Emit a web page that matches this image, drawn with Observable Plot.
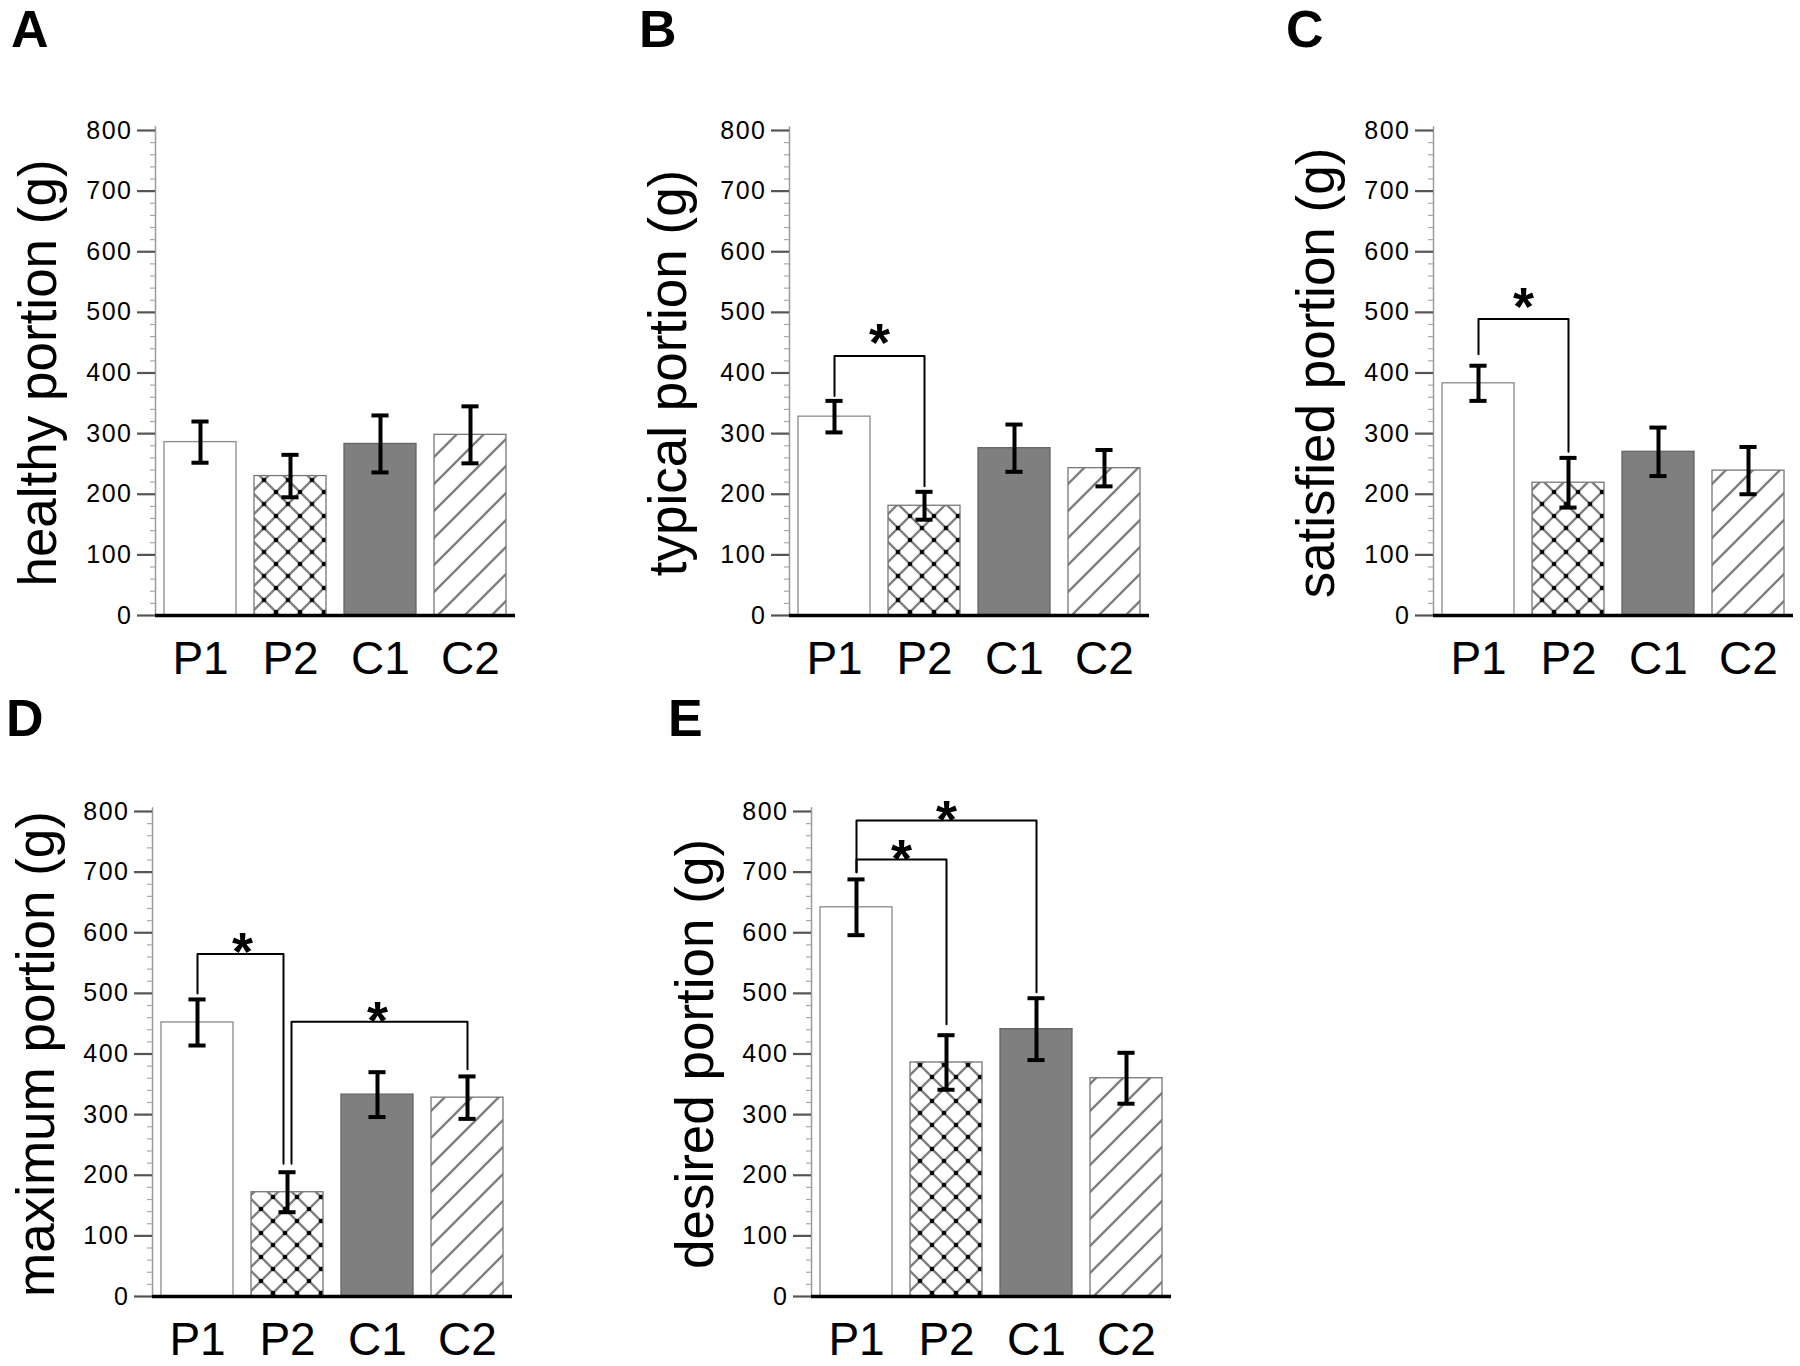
<!DOCTYPE html>
<html><head><meta charset="utf-8">
<script src="https://cdn.jsdelivr.net/npm/d3@7"></script>
<script src="https://cdn.jsdelivr.net/npm/@observablehq/plot@0.6"></script>
<style>
body{margin:0;background:#fff;}
#wrap{position:relative;width:1800px;height:1366px;overflow:hidden;background:#fff;font-family:"Liberation Sans",Arial,sans-serif;}
.panel{position:absolute;}
.letter{position:absolute;font-weight:bold;font-size:52px;font-family:"Liberation Sans",Arial,sans-serif;line-height:1;color:#000;}
.panel svg g[aria-label="y-axis tick label"] text{letter-spacing:1.5px;}
</style></head><body>
<svg width="0" height="0" style="position:absolute">
<defs>
<pattern id="cross" patternUnits="userSpaceOnUse" width="24" height="24">
<rect width="24" height="24" fill="#fff"/>
<path d="M-1,-1L25,25M25,-1L-1,25" stroke="#808080" stroke-width="2.4" fill="none"/>
<circle cx="12" cy="12" r="2.3" fill="#000"/>
<circle cx="0" cy="0" r="2.3" fill="#000"/><circle cx="24" cy="0" r="2.3" fill="#000"/>
<circle cx="0" cy="24" r="2.3" fill="#000"/><circle cx="24" cy="24" r="2.3" fill="#000"/>
</pattern>
<pattern id="diag" patternUnits="userSpaceOnUse" width="27" height="27">
<rect width="27" height="27" fill="#fff"/>
<path d="M-2,29L29,-2M-2,2L2,-2M25,29L29,25" stroke="#808080" stroke-width="2.4" fill="none"/>
</pattern>
</defs></svg>
<div id="wrap"></div>
<script>
// ---- data ----
const cats = ["P1", "P2", "C1", "C2"];
const majorTicks = [0, 100, 200, 300, 400, 500, 600, 700, 800];

const healthyMean = [286, 230, 283, 298];
const healthyErr  = [34, 35, 47, 47];
const typicalMean = [328, 181, 276, 243];
const typicalErr  = [26, 23, 39, 30];
const satisfiedMean = [383, 219, 270, 239];
const satisfiedErr  = [29, 41, 40, 39];
const maximumMean = [452, 172, 333, 328];
const maximumErr  = [38, 33, 37, 35];
const desiredMean = [642, 386, 441, 360];
const desiredErr  = [46, 45, 51, 42];

const bracketsB = [{from: "P1", to: "P2", top: 428, fromEnd: 362, toEnd: 213, star: 472}];
const bracketsC = [{from: "P1", to: "P2", top: 489, fromEnd: 431, toEnd: 270, star: 530}];
const bracketsD = [
  {from: "P1", to: "P2", top: 565, fromEnd: 500, toEnd: 219, star: 590},
  {from: "P2", to: "C2", top: 453, fromEnd: 219, toEnd: 375, star: 477}
];
const bracketsE = [
  {from: "P1", to: "P2", top: 721, fromEnd: 700, toEnd: 449, star: 744},
  {from: "P1", to: "C1", top: 785, fromEnd: 700, toEnd: 502, star: 808}
];

const panels = [
  {letter: "A", title: "healthy portion (g)", mean: healthyMean, err: healthyErr, brackets: [], left: 0, top: 0, titleDx: -116, lx: 11, ly: 3},
  {letter: "B", title: "typical portion (g)", mean: typicalMean, err: typicalErr, brackets: bracketsB, left: 634, top: 0, titleDx: -120, lx: 639, ly: 3},
  {letter: "C", title: "satisfied portion (g)", mean: satisfiedMean, err: satisfiedErr, brackets: bracketsC, left: 1278, top: 0, titleDx: -116, lx: 1286, ly: 3},
  {letter: "D", title: "maximum portion (g)", mean: maximumMean, err: maximumErr, brackets: bracketsD, left: -3, top: 681, titleDx: -115, lx: 6, ly: 692},
  {letter: "E", title: "desired portion (g)", mean: desiredMean, err: desiredErr, brackets: bracketsE, left: 656, top: 681, titleDx: -115, lx: 668, ly: 692}
];

const minorTicks = d3.range(0, 801, 20).filter(v => v % 100 !== 0);
const fillOf = {P1: "#ffffff", P2: "url(#cross)", C1: "#7f7f7f", C2: "url(#diag)"};
const strokeOf = {P1: "#8a8a8a", P2: "#777", C1: "#666", C2: "#777"};
const idx = c => cats.indexOf(c);
const wrap = document.getElementById("wrap");

for (const p of panels) {
  const data = cats.map((c, i) => ({i, cat: c, v: p.mean[i], e: p.err[i]}));
  const toShift = new Set(p.brackets.map(b => b.from));
  const fromShift = new Set(p.brackets.map(b => b.to));
  const off = 4 / 90;
  const lines = [];
  p.brackets.forEach((b, k) => {
    const x1 = idx(b.from) + (fromShift.has(b.from) ? off : 0);
    const x2 = idx(b.to) - (toShift.has(b.to) ? off : 0);
    lines.push({k, x: x1, y: b.fromEnd}, {k, x: x1, y: b.top}, {k, x: x2, y: b.top}, {k, x: x2, y: b.toEnd});
  });

  const chart = Plot.plot({
    width: 520, height: 695,
    marginLeft: 155, marginRight: 5, marginTop: 130, marginBottom: 80,
    x: {domain: [-0.5, 3.5]},
    y: {domain: [0, 800]},
    color: {type: "identity"},
    style: {fontFamily: "'Liberation Sans', Arial, sans-serif", background: "transparent", overflow: "visible", color: "#000"},
    marks: [
      Plot.rectY(data, {x1: d => d.i - 0.4, x2: d => d.i + 0.4, y1: 0, y2: "v",
        fill: d => fillOf[d.cat], stroke: d => strokeOf[d.cat], strokeWidth: 1.3}),
      Plot.ruleX([-0.5], {y1: 0, y2: 806, stroke: "#9a9a9a", strokeWidth: 1.5}),
      Plot.axisY({ticks: minorTicks, tickSize: 5, tickFormat: () => "", stroke: "#aaa", strokeWidth: 1.2, label: null}),
      Plot.axisY({ticks: majorTicks, tickSize: 18, tickPadding: 5, fontSize: 25, stroke: "#555", strokeWidth: 2.2, label: null}),
      Plot.axisX({ticks: [0, 1, 2, 3], tickFormat: i => cats[i], tickSize: 0, tickPadding: 26, fontSize: 46, label: null}),
      Plot.ruleY([0], {stroke: "#000", strokeWidth: 3.5}),
      Plot.ruleX(data, {x: "i", y1: d => d.v - d.e, y2: d => d.v + d.e, stroke: "#000", strokeWidth: 4}),
      Plot.ruleY(data, {x1: d => d.i - 0.095, x2: d => d.i + 0.095, y: d => d.v - d.e, stroke: "#000", strokeWidth: 4}),
      Plot.ruleY(data, {x1: d => d.i - 0.095, x2: d => d.i + 0.095, y: d => d.v + d.e, stroke: "#000", strokeWidth: 4}),
      Plot.line(lines, {x: "x", y: "y", z: "k", stroke: "#000", strokeWidth: 2}),
      Plot.text(p.brackets, {x: b => (idx(b.from) + idx(b.to)) / 2, y: "star", text: () => "*", fontSize: 54, fontWeight: "bold", dy: 14, fill: "#000"}),
      Plot.text([p.title], {frameAnchor: "left", textAnchor: "middle", rotate: -90, dx: p.titleDx, fontSize: 53, fill: "#000"})
    ]
  });
  const div = document.createElement("div");
  div.className = "panel";
  div.style.left = p.left + "px";
  div.style.top = p.top + "px";
  div.appendChild(chart);
  wrap.appendChild(div);

  const l = document.createElement("div");
  l.className = "letter";
  l.textContent = p.letter;
  l.style.left = p.lx + "px";
  l.style.top = p.ly + "px";
  wrap.appendChild(l);
}
</script>
</body></html>
